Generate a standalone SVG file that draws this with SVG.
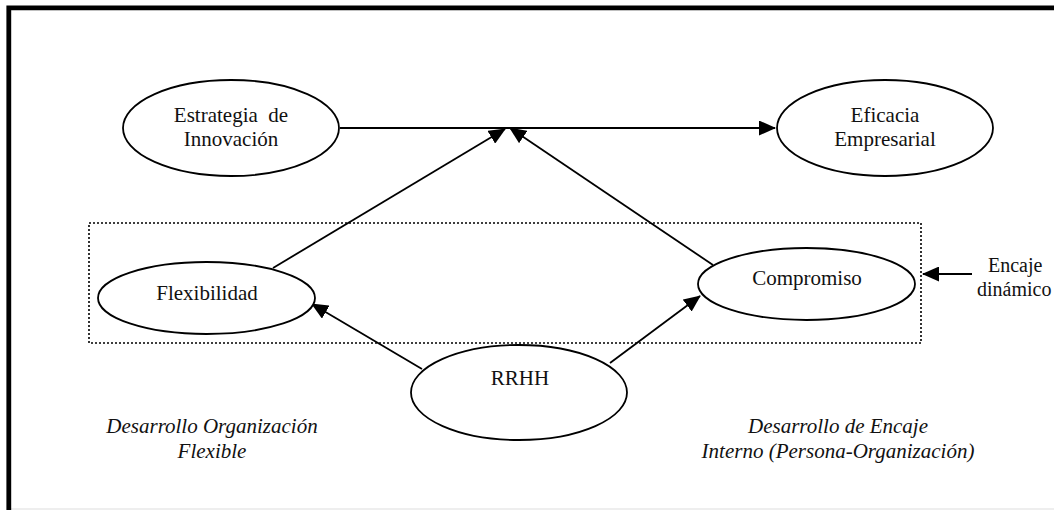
<svg xmlns="http://www.w3.org/2000/svg" width="1054" height="510" viewBox="0 0 1054 510">
  <style>
    .node ellipse { fill: #ffffff; stroke: #000000; stroke-width: 1.8; }
    .lbl { font-family: "Liberation Serif", "Times New Roman", serif; font-size: 21px; fill: #111111; text-anchor: middle; }
    .note { font-family: "Liberation Serif", "Times New Roman", serif; font-size: 21px; font-style: italic; fill: #111111; text-anchor: middle; }
    .edge { stroke: #000000; stroke-width: 1.8; fill: none; marker-end: url(#ah); }
  </style>
  <defs>
    <marker id="ah" markerUnits="userSpaceOnUse" viewBox="0 0 17 15" markerWidth="17" markerHeight="15" refX="16" refY="7.5" orient="auto">
      <path d="M0,0 L17,7.5 L0,15 z" fill="#000000"/>
    </marker>
  </defs>

  <rect x="0" y="0" width="1054" height="510" fill="#ffffff"/>

  <!-- outer frame: thick left and top rules, faint bottom rule -->
  <line x1="11" y1="509" x2="1054" y2="509" stroke="#dddddd" stroke-width="1"/>
  <path d="M8.8 510 V7.8 H1054" fill="none" stroke="#000000" stroke-width="4.8"/>

  <!-- dynamic-fit region -->
  <rect id="encaje-region" x="89" y="223" width="832" height="120" fill="none" stroke="#000000" stroke-width="1.6" stroke-dasharray="2 2"/>

  <g id="connectors">
    <line class="edge" x1="340" y1="128" x2="775" y2="128"/>
    <line class="edge" x1="273" y1="268" x2="505" y2="129"/>
    <line class="edge" x1="713" y1="265" x2="510" y2="128"/>
    <line class="edge" x1="422" y1="369" x2="312" y2="304"/>
    <line class="edge" x1="610" y1="363" x2="700" y2="296"/>
    <line class="edge" x1="972" y1="274" x2="923" y2="274"/>
  </g>

  <g id="estrategia" class="node">
    <ellipse cx="231" cy="128" rx="108" ry="48"/>
    <text class="lbl" x="231" y="122" xml:space="preserve">Estrategia  de</text>
    <text class="lbl" x="231" y="146">Innovación</text>
  </g>

  <g id="eficacia" class="node">
    <ellipse cx="885" cy="128" rx="108" ry="48"/>
    <text class="lbl" x="885" y="122">Eficacia</text>
    <text class="lbl" x="885" y="146">Empresarial</text>
  </g>

  <g id="flexibilidad" class="node">
    <ellipse cx="206.5" cy="298" rx="108.5" ry="36"/>
    <text class="lbl" x="207" y="300">Flexibilidad</text>
  </g>

  <g id="compromiso" class="node">
    <ellipse cx="806.5" cy="284" rx="108.5" ry="36"/>
    <text class="lbl" x="807" y="285">Compromiso</text>
  </g>

  <g id="rrhh" class="node">
    <ellipse cx="519" cy="392.5" rx="108" ry="47.5"/>
    <text class="lbl" x="520" y="385">RRHH</text>
  </g>

  <g id="encaje-label">
    <text class="lbl" x="988" y="272" style="text-anchor:start;font-size:20px">Encaje</text>
    <text class="lbl" x="977" y="296" style="text-anchor:start;font-size:20px">dinámico</text>
  </g>

  <g id="notes">
    <text class="note" x="212" y="433">Desarrollo Organización</text>
    <text class="note" x="212" y="458">Flexible</text>
    <text class="note" x="838" y="433">Desarrollo de Encaje</text>
    <text class="note" x="838" y="458">Interno (Persona-Organización)</text>
  </g>
</svg>
